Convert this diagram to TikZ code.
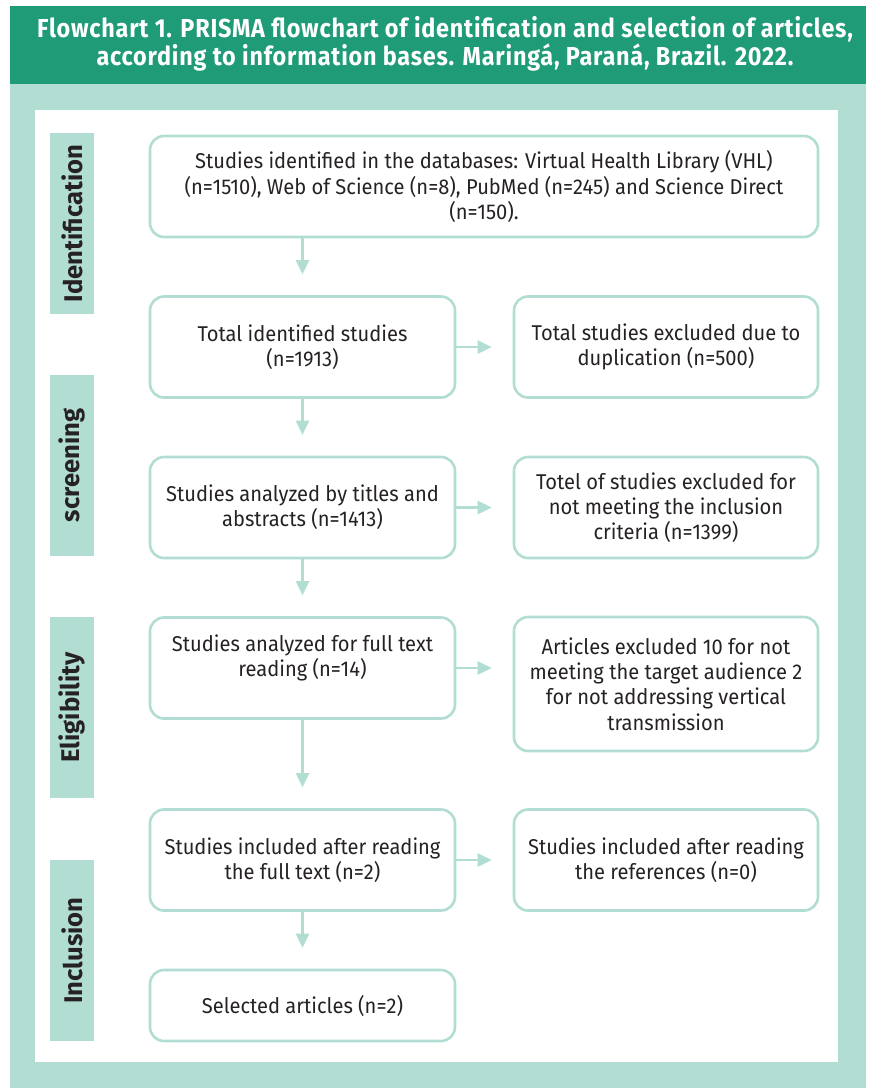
\documentclass[tikz,border=0pt]{standalone}
\usepackage{fontspec}
\setmainfont{Fira Sans}[FakeStretch=0.94]
\newfontfamily\headfont{Fira Sans}[FakeStretch=0.9,LetterSpace=3]
\newfontfamily\phasefont{Fira Sans}
\usetikzlibrary{arrows.meta,calc,positioning}
\definecolor{prismadark}{RGB}{31,155,119}
\definecolor{prismalight}{RGB}{178,221,210}
\definecolor{prismatext}{RGB}{38,34,35}
\tikzset{
 flowbox/.style={draw=prismalight,line width=1.3bp,rounded corners=7bp,
  minimum width=152.5bp,minimum height=50.5bp,inner sep=2bp,
  align=center,text=prismatext,
  font=\fontsize{10.7bp}{12.6bp}\selectfont},
 sidebox/.style={flowbox,minimum width=152bp},
 phasebox/.style={fill=prismalight,rotate=90,inner sep=0pt,
  minimum width=90.5bp,minimum height=22bp,text=prismatext,
  font=\phasefont\bfseries\fontsize{12.8bp}{14bp}\selectfont},
 flowarrow/.style={draw=prismalight,line width=1.3bp,
  -{Triangle[length=7bp,width=6.5bp]},shorten >=10.5bp}
}
\begin{document}
\begin{tikzpicture}[x=0.5bp,y=-0.5bp,line cap=round,line join=round]
 \useasboundingbox (0,0) rectangle (869,1089);
 \fill[prismalight] (10,84) rectangle (866,1088);
 \fill[prismadark] (10,6) rectangle (866,84);
 \fill[white] (35,110) rectangle (838,1062);
 \node[text=white,align=center,
  font=\headfont\bfseries\fontsize{13bp}{12.5bp}\selectfont]
  (title) at (445,44)
  {Flowchart 1. PRISMA flowchart of identification and selection of articles,\\
   according to information bases. Maringá, Paraná, Brazil. 2022.};
 \foreach \y/\lab/\nm in {223.5/Identification/idp,465.5/screening/scp,
   707.5/Eligibility/elp,950.5/Inclusion/inp}{
  \node[phasebox] (\nm) at (72,\y) {\lab};
 }
 \node[flowbox,minimum width=334bp] (idb) at (484,186.5)
  {Studies identified in the databases: Virtual Health Library (VHL)\\
   (n=1510), Web of Science (n=8), PubMed (n=245) and Science Direct\\
   (n=150).};
 \node[flowbox] (totb) at (302.5,347)
  {Total identified studies\\(n=1913)};
 \node[sidebox] (dupb) at (666,347)
  {Total studies excluded due to\\duplication (n=500)};
 \node[flowbox] (titb) at (302.5,507.5)
  {Studies analyzed by titles and\\abstracts (n=1413)};
 \node[sidebox] (excb) at (666,507.5)
  {Totel of studies excluded for\\not meeting the inclusion\\criteria (n=1399)};
 \node[flowbox] (fulb) at (302.5,668)
  {Studies analyzed for full text\\reading (n=14)\\\mbox{}};
 \node[sidebox,minimum height=67bp] (audb) at (666,684)
  {Articles excluded 10 for not\\meeting the target audience 2\\
   for not addressing vertical\\transmission};
 \node[flowbox] (incb) at (302.5,860)
  {Studies included after reading\\the full text (n=2)};
 \node[sidebox] (refb) at (666,860)
  {Studies included after reading\\the references (n=0)};
 \node[flowbox,minimum height=35.5bp] (selb) at (302.5,1005.5)
  {Selected articles (n=2)};
 \draw[flowarrow] (idb.south -| totb.north) -- (totb.north);
 \foreach \a/\b in {totb/titb,titb/fulb,fulb/incb,incb/selb}{
  \draw[flowarrow] (\a.south) -- (\b.north);
 }
 \foreach \a/\b in {totb/dupb,titb/excb,incb/refb}{
  \draw[flowarrow] (\a.east) -- (\b.west);
 }
 \draw[flowarrow] (fulb.east) -- (fulb.east -| audb.west);
\end{tikzpicture}
\end{document}
